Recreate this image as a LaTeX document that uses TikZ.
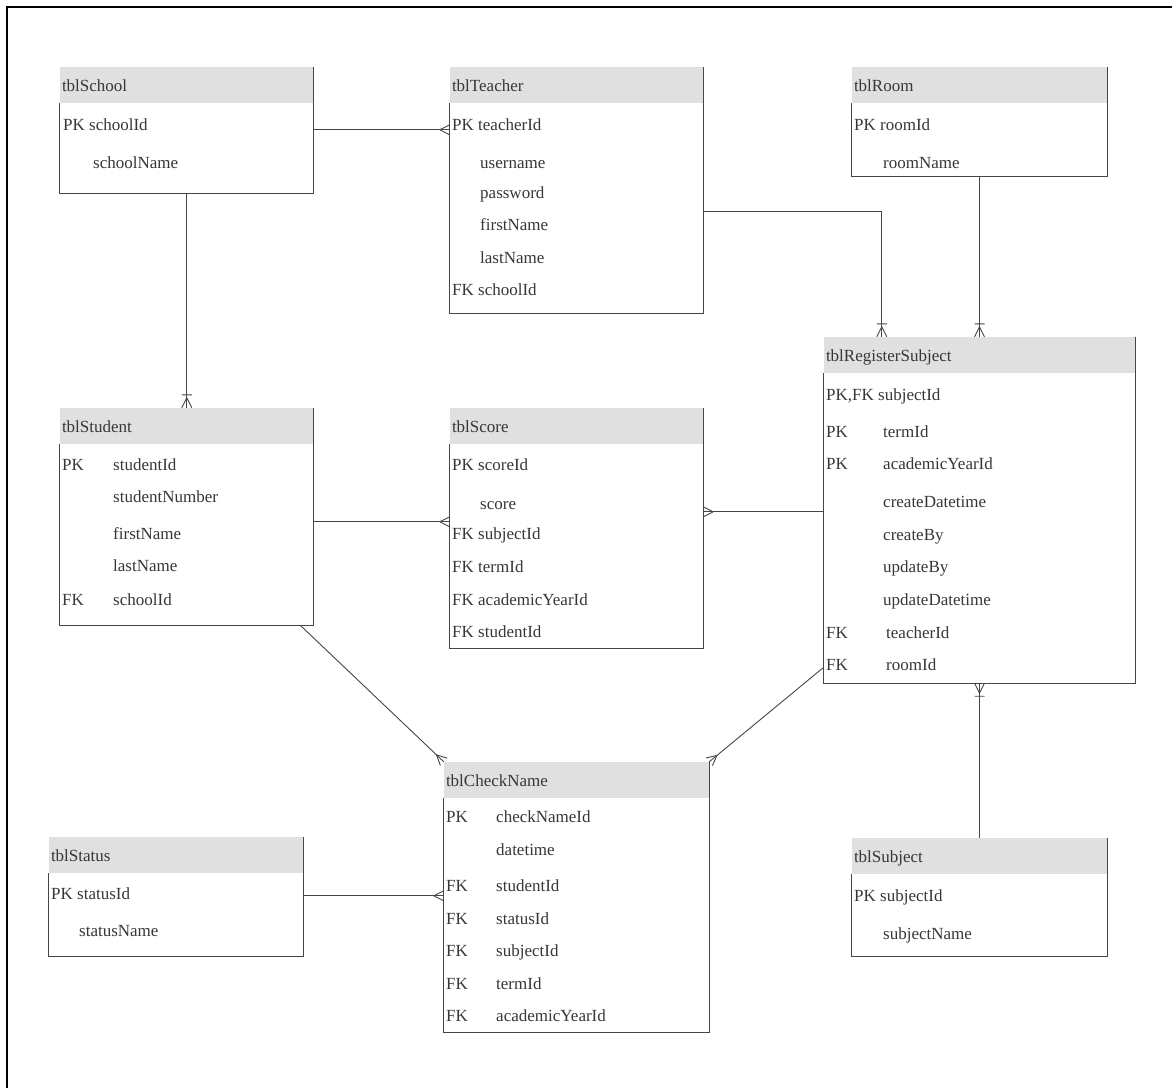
\documentclass[tikz,border=0pt]{standalone}
\usepackage{fontspec}
\setmainfont{Liberation Serif}
\usetikzlibrary{fit,calc,decorations.markings}
\definecolor{hdrgray}{RGB}{224,224,224}
\definecolor{txtgray}{RGB}{55,55,55}
\definecolor{linegray}{RGB}{70,70,70}
\tikzset{
  hdrfill/.style={fill=hdrgray},
  tblline/.style={draw=linegray,line width=1pt},
  fld/.style={anchor=west,inner sep=0pt,yshift=-2pt,text=txtgray,font=\fontsize{17}{20}\selectfont,text height=10pt,text depth=3pt},
  conn/.style={draw=linegray,line width=0.9pt},
  manyend/.style={postaction={decorate,decoration={markings,mark=at position 1 with {\draw[linegray,line width=0.9pt] (-10,0) -- (0,5) (-10,0) -- (0,-5);}}}},
  onemanyend/.style={postaction={decorate,decoration={markings,mark=at position 1 with {\draw[linegray,line width=0.9pt] (-10,0) -- (0,5) (-10,0) -- (0,-5) (-13,-5) -- (-13,5);}}}}
}
\newcommand\mktable[4]{%
  \node[fit={#2 #3},inner sep=0pt] (#1) {};
  \fill[hdrfill] (#1.north west) rectangle ([yshift=-36pt]#1.north east);
  \draw[tblline] ([yshift=-36pt]#1.north west) -- (#1.south west) -- (#1.south east) -- (#1.north east);
  \node[fld] (#1-title) at ([xshift=2pt,yshift=-19pt]#1.north west) {#4};
}
\begin{document}
\begin{tikzpicture}[x=1pt,y=-1pt]
\useasboundingbox (0,0) rectangle (1172,1088);
\fill[white] (0,0) rectangle (1172,1088);
\draw[line width=2pt,black] (6.5,1088) -- (6.5,6.5) -- (1172,6.5);

% tblSchool
\mktable{school}{(60,67)}{(313,193)}{tblSchool}
\node[fld] (school-1) at (63,125) {PK schoolId};
\node[fld] (school-2) at (93,163) {schoolName};

% tblTeacher
\mktable{teacher}{(450,67)}{(703,313)}{tblTeacher}
\node[fld] (teacher-1) at (452,125) {PK teacherId};
\node[fld] (teacher-2) at (480,163) {username};
\node[fld] (teacher-3) at (480,193) {password};
\node[fld] (teacher-4) at (480,225) {firstName};
\node[fld] (teacher-5) at (480,258) {lastName};
\node[fld] (teacher-6) at (452,290) {FK schoolId};

% tblRoom
\mktable{room}{(852,67)}{(1107,176)}{tblRoom}
\node[fld] (room-1) at (854,125) {PK roomId};
\node[fld] (room-2) at (883,163) {roomName};

% tblRegisterSubject
\mktable{register}{(824,337)}{(1135,683)}{tblRegisterSubject}
\node[fld] (reg-1) at (826,395) {PK,FK subjectId};
\node[fld] (reg-2k) at (826,432) {PK};
\node[fld] (reg-2) at (883,432) {termId};
\node[fld] (reg-3k) at (826,464) {PK};
\node[fld] (reg-3) at (883,464) {academicYearId};
\node[fld] (reg-4) at (883,502) {createDatetime};
\node[fld] (reg-5) at (883,535) {createBy};
\node[fld] (reg-6) at (883,567) {updateBy};
\node[fld] (reg-7) at (883,600) {updateDatetime};
\node[fld] (reg-8k) at (826,633) {FK};
\node[fld] (reg-8) at (886,633) {teacherId};
\node[fld] (reg-9k) at (826,665) {FK};
\node[fld] (reg-9) at (886,665) {roomId};

% tblStudent
\mktable{student}{(60,408)}{(313,625)}{tblStudent}
\node[fld] (stu-1k) at (62,465) {PK};
\node[fld] (stu-1) at (113,465) {studentId};
\node[fld] (stu-2) at (113,497) {studentNumber};
\node[fld] (stu-3) at (113,534) {firstName};
\node[fld] (stu-4) at (113,566) {lastName};
\node[fld] (stu-5k) at (62,600) {FK};
\node[fld] (stu-5) at (113,600) {schoolId};

% tblScore
\mktable{score}{(450,408)}{(703,648)}{tblScore}
\node[fld] (sc-1) at (452,465) {PK scoreId};
\node[fld] (sc-2) at (480,504) {score};
\node[fld] (sc-3) at (452,534) {FK subjectId};
\node[fld] (sc-4) at (452,567) {FK termId};
\node[fld] (sc-5) at (452,600) {FK academicYearId};
\node[fld] (sc-6) at (452,632) {FK studentId};

% tblCheckName
\mktable{check}{(444,762)}{(709,1032)}{tblCheckName}
\node[fld] (ch-1k) at (446,817) {PK};
\node[fld] (ch-1) at (496,817) {checkNameId};
\node[fld] (ch-2) at (496,850) {datetime};
\node[fld] (ch-3k) at (446,886) {FK};
\node[fld] (ch-3) at (496,886) {studentId};
\node[fld] (ch-4k) at (446,919) {FK};
\node[fld] (ch-4) at (496,919) {statusId};
\node[fld] (ch-5k) at (446,951) {FK};
\node[fld] (ch-5) at (496,951) {subjectId};
\node[fld] (ch-6k) at (446,984) {FK};
\node[fld] (ch-6) at (496,984) {termId};
\node[fld] (ch-7k) at (446,1016) {FK};
\node[fld] (ch-7) at (496,1016) {academicYearId};

% tblStatus
\mktable{status}{(49,837)}{(303,956)}{tblStatus}
\node[fld] (st-1) at (51,894) {PK statusId};
\node[fld] (st-2) at (79,931) {statusName};

% tblSubject
\mktable{subject}{(852,838)}{(1107,956)}{tblSubject}
\node[fld] (sb-1) at (854,896) {PK subjectId};
\node[fld] (sb-2) at (883,934) {subjectName};

% connectors
\draw[conn,manyend] ([yshift=-63pt]school.north east) -- ([yshift=-63pt]teacher.north west);
\draw[conn,onemanyend] ([yshift=-145pt]teacher.north east) -| ([xshift=58pt]register.north west);
\draw[conn,onemanyend] (room.south) -- (room.south |- register.north);
\draw[conn,onemanyend] ([xshift=127pt]school.south west) -- ([xshift=127pt]student.north west);
\draw[conn,manyend] ([yshift=-114pt]student.north east) -- ([yshift=-114pt]score.north west);
\draw[conn,manyend] ([yshift=-175pt]register.north west) -- ([yshift=-104pt]score.north east);
\draw[conn,manyend] ([xshift=-13pt]student.south east) -- (check.north west);
\draw[conn,manyend] ([yshift=16pt]register.south west) -- (check.north east);
\draw[conn,manyend] ([yshift=-59pt]status.north east) -- ([yshift=-134pt]check.north west);
\draw[conn,onemanyend] (subject.north) -- (subject.north |- register.south);
\end{tikzpicture}
\end{document}
